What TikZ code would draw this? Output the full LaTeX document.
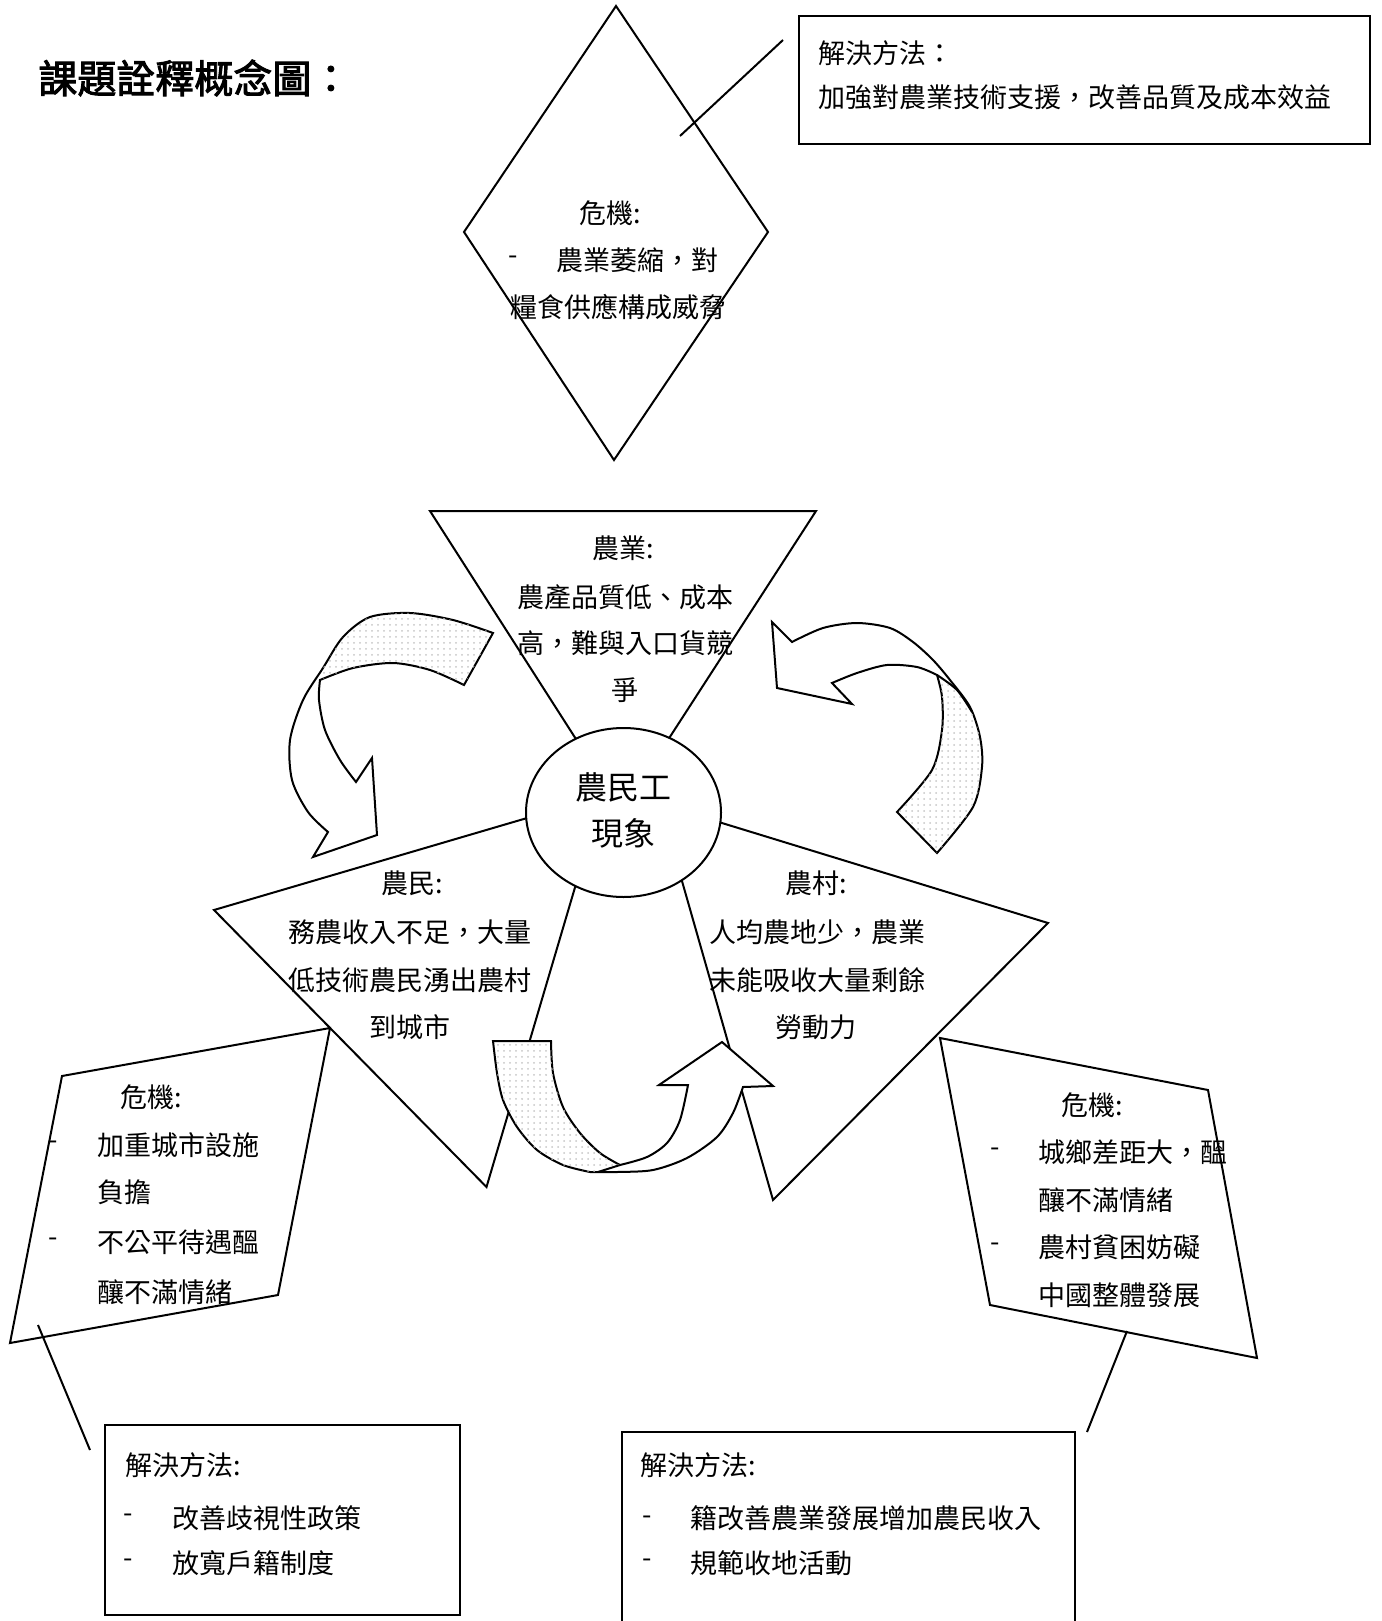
\documentclass[tikz,border=0pt]{standalone}
\usepackage{fontspec}
\setmainfont{Noto Sans CJK TC}
\newfontfamily\titlefont[FakeBold=2.5]{Noto Sans CJK TC}
\usetikzlibrary{shapes.geometric,patterns}
\tikzset{
  outline/.style={draw=black, line width=1pt, line join=miter},
  ribbon/.style={outline, fill=white},
  backside/.style={pattern=dots, pattern color=black!22},
  body/.style={inner sep=0pt, font=\fontsize{13.5pt}{16pt}\selectfont},
  lefttext/.style={body, anchor=west},
  midtext/.style={body, anchor=center},
  bigtext/.style={inner sep=0pt, anchor=center, font=\fontsize{16pt}{19pt}\selectfont},
  link/.style={draw=black, line width=1pt},
}
\begin{document}
\begin{tikzpicture}[x=0.5pt,y=-0.5pt]
\useasboundingbox (0,0) rectangle (1381,1621);
\clip (0,0) rectangle (1381,1621);

% ---------- title
\node[anchor=west, inner sep=0pt, font=\titlefont\fontsize{19.5pt}{21pt}\selectfont] (title) at (38,78) {課題詮釋概念圖：};

% ---------- diamond
\coordinate (dT) at (616,6);
\coordinate (dR) at (768,232);
\coordinate (dB) at (614,460);
\coordinate (dL) at (464,232);
\draw[outline] (dT) -- (dR) -- (dB) -- (dL) -- cycle;

% ---------- solution box 1
\node[outline, minimum width=285.5pt, minimum height=64pt, inner sep=0pt] (sol1) at (1084.5,80) {};
\coordinate (l1a) at (680,136);
\coordinate (l1b) at (783,40);
\draw[link] (l1a) -- (l1b);

% ---------- triangles
\coordinate (tA1) at (430,511);
\coordinate (tA2) at (816,511);
\coordinate (tA3) at (622,811);
\coordinate (tB1) at (214,910);
\coordinate (tB2) at (602,796);
\coordinate (tB3) at (486.5,1187);
\coordinate (tC1) at (1048,923);
\coordinate (tC2) at (660,804);
\coordinate (tC3) at (773,1200);
\draw[outline] (tA1) -- (tA2) -- (tA3) -- cycle;
\draw[outline] (tB1) -- (tB2) -- (tB3) -- cycle;
\draw[outline] (tC1) -- (tC2) -- (tC3) -- cycle;

% ---------- core ellipse
\node[outline, fill=white, ellipse, minimum width=97.5pt, minimum height=84.5pt, inner sep=0pt] (core) at (623.5,812.5) {};

% ---------- parallelograms
\coordinate (pL1) at (62,1076);
\coordinate (pL2) at (330,1028);
\coordinate (pL3) at (278,1295);
\coordinate (pL4) at (10,1343);
\draw[outline] (pL1) -- (pL2) -- (pL3) -- (pL4) -- cycle;
\coordinate (pR1) at (940,1038);
\coordinate (pR2) at (1208,1090);
\coordinate (pR3) at (1257,1358);
\coordinate (pR4) at (990,1305);
\draw[outline] (pR1) -- (pR2) -- (pR3) -- (pR4) -- cycle;

% ---------- solution boxes 2 and 3
\node[outline, minimum width=177.5pt, minimum height=95pt, inner sep=0pt] (sol2) at (282.5,1520) {};
\node[outline, minimum width=226.5pt, minimum height=103pt, inner sep=0pt] (sol3) at (848.5,1535) {};
\coordinate (l2a) at (38,1325);
\coordinate (l2b) at (90,1450);
\draw[link] (l2a) -- (l2b);
\coordinate (l3a) at (1127,1331);
\coordinate (l3b) at (1087,1432);
\draw[link] (l3a) -- (l3b);

% ---------- left curved arrow
\draw[ribbon] (493,633) -- plot[smooth] coordinates {(493,633) (453,620) (410,613) (370,617) (343,637) (323,668) (303,700) (290,740) (292,780) (308,812) (328,832)}
  -- (313,857) -- (377,835) -- (372,758) -- (356,782)
  -- plot[smooth] coordinates {(356,782) (340,760) (325,730) (319,700) (320,680)}
  -- plot[smooth] coordinates {(320,680) (353,668) (393,663) (430,670) (464,685)} -- cycle;
\path[backside] (493,633) -- plot[smooth] coordinates {(493,633) (453,620) (410,613) (370,617) (343,637) (323,668)}
  -- (320,680) -- plot[smooth] coordinates {(320,680) (353,668) (393,663) (430,670) (464,685)} -- cycle;

% ---------- right curved arrow
\draw[ribbon] (772,622) -- (792,642)
  -- plot[smooth] coordinates {(792,642) (823,628) (857,623) (890,628) (913,642) (933,660) (950,680) (970,707) (980,737) (982,767) (973,807) (937,853)}
  -- (897,812)
  -- plot[smooth] coordinates {(897,812) (932,770) (942,730) (942,697) (937,675)}
  -- plot[smooth] coordinates {(937,675) (917,667) (887,665) (857,673) (832,683)}
  -- (852,704) -- (777,688) -- cycle;
\path[backside] (937,675) -- plot[smooth] coordinates {(937,675) (957,690) (972,712) (980,737) (982,767) (973,807) (937,853)}
  -- (897,812) -- plot[smooth] coordinates {(897,812) (932,770) (942,730) (942,697) (937,675)} -- cycle;
\draw[outline] plot[smooth] coordinates {(937,675) (957,690) (972,712)};

% ---------- bottom curved arrow
\draw[ribbon] (493,1041) -- (551,1041)
  -- plot[smooth] coordinates {(551,1041) (553,1073) (563,1107) (580,1133) (600,1153) (620,1165)}
  -- plot[smooth] coordinates {(620,1165) (647,1157) (667,1143) (680,1120) (688,1085)}
  -- (659,1085) -- (722,1042) -- (773,1086) -- (743,1087)
  -- plot[smooth] coordinates {(743,1087) (733,1113) (717,1137) (687,1158) (653,1170) (617,1172) (590,1172)}
  -- plot[smooth] coordinates {(590,1172) (563,1165) (537,1150) (517,1127) (503,1100) (497,1073) (493,1041)} -- cycle;
\path[backside] (493,1041) -- (551,1041)
  -- plot[smooth] coordinates {(551,1041) (553,1073) (563,1107) (580,1133) (600,1153) (620,1165)}
  -- (598,1172)
  -- plot[smooth] coordinates {(590,1172) (563,1165) (537,1150) (517,1127) (503,1100) (497,1073) (493,1041)} -- cycle;
\draw[outline] (620,1165) -- (598,1172);

% ---------- texts
\node[midtext] (dg1) at (610,213) {危機:};
\node[midtext] (dg2) at (513,260) {-};
\node[lefttext] (dg3) at (556,260) {農業萎縮，對};
\node[lefttext] (dg4) at (510,307) {糧食供應構成威脅};

\node[lefttext] (s1a) at (818,53) {解決方法：};
\node[lefttext] (s1b) at (818,97) {加強對農業技術支援，改善品質及成本效益};

\node[midtext] (ta1) at (623,548) {農業:};
\node[midtext] (ta2) at (625,597) {農產品質低、成本};
\node[midtext] (ta3) at (625,643) {高，難與入口貨競};
\node[midtext] (ta4) at (625,690) {爭};

\node[bigtext] (c1) at (623,787) {農民工};
\node[bigtext] (c2) at (623,833) {現象};

\node[midtext] (tb1) at (412,883) {農民:};
\node[midtext] (tb2) at (410,932) {務農收入不足，大量};
\node[midtext] (tb3) at (410,980) {低技術農民湧出農村};
\node[midtext] (tb4) at (410,1027) {到城市};

\node[midtext] (tc1) at (816,883) {農村:};
\node[midtext] (tc2) at (817,932) {人均農地少，農業};
\node[midtext] (tc3) at (817,980) {未能吸收大量剩餘};
\node[midtext] (tc4) at (816,1027) {勞動力};

\node[midtext] (pl1) at (151,1097) {危機:};
\node[midtext] (pl2) at (53,1145) {-};
\node[lefttext] (pl3) at (97,1145) {加重城市設施};
\node[lefttext] (pl4) at (97,1192) {負擔};
\node[midtext] (pl5) at (53,1242) {-};
\node[lefttext] (pl6) at (97,1242) {不公平待遇醞};
\node[lefttext] (pl7) at (97,1292) {釀不滿情緒};

\node[midtext] (pr1) at (1092,1105) {危機:};
\node[midtext] (pr2) at (995,1152) {-};
\node[lefttext] (pr3) at (1038,1152) {城鄉差距大，醞};
\node[lefttext] (pr4) at (1038,1200) {釀不滿情緒};
\node[midtext] (pr5) at (995,1247) {-};
\node[lefttext] (pr6) at (1038,1247) {農村貧困妨礙};
\node[lefttext] (pr7) at (1038,1295) {中國整體發展};

\node[lefttext] (s2a) at (125,1465) {解決方法:};
\node[midtext] (s2b) at (128,1518) {-};
\node[lefttext] (s2c) at (172,1518) {改善歧視性政策};
\node[midtext] (s2d) at (128,1563) {-};
\node[lefttext] (s2e) at (172,1563) {放寬戶籍制度};

\node[lefttext] (s3a) at (640,1465) {解決方法:};
\node[midtext] (s3b) at (647,1520) {-};
\node[lefttext] (s3c) at (690,1518) {籍改善農業發展增加農民收入};
\node[midtext] (s3d) at (647,1563) {-};
\node[lefttext] (s3e) at (690,1563) {規範收地活動};
\end{tikzpicture}
\end{document}
